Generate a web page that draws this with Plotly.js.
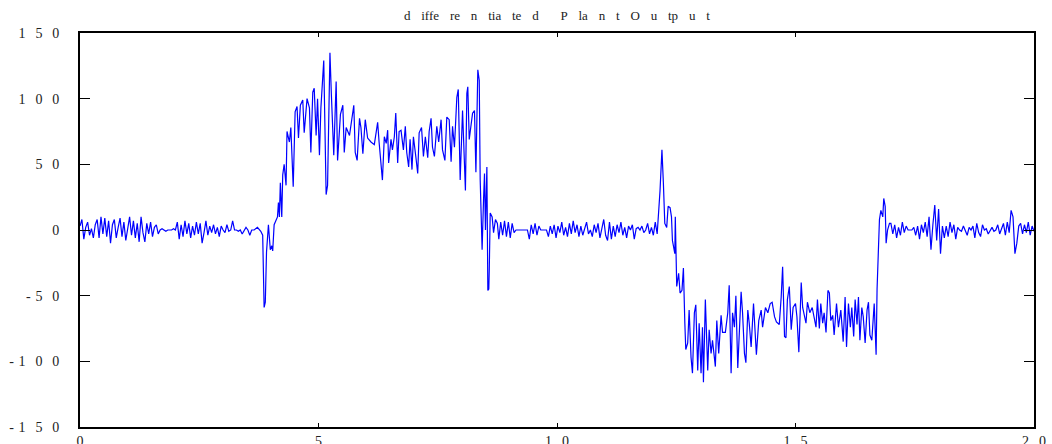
<!DOCTYPE html>
<html>
<head>
<meta charset="utf-8">
<script src="https://cdn.plot.ly/plotly-3.0.1.min.js"></script>
<style>
  html, body { margin: 0; padding: 0; background: #fff; }
  #chart { width: 1052px; height: 444px; }
</style>
</head>
<body>
<div id="chart"></div>
<script>
// ---- data ----
const titleGroups = ["d", "iffe", "re", "n", "tia", "te", "d", "", "P", "la", "n", "t", "O", "u", "tp", "u", "t"];
const xTickVals = [0, 5, 10, 15, 20];
const xTickText = ["0", "5", "1 0", "1 5", "2 0"];
const yTickVals = [150, 100, 50, 0, -50, -100, -150];
const yTickText = ["1 5 0", "1 0 0", "5 0", "0", "- 5 0", "- 1 0 0", "- 1 5 0"];

const quietStep = 0.04;

// quiet noise, 0 s .. 3.60 s
const quiet1Start = 0;
const quiet1 = [3,8,-7,2,6,-4,1,-6,4,8,-6,
  10,-3,9,-5,7,-10,4,8,-6,2,
  9,-5,6,-8,3,10,-4,7,-6,5,-9,
  10,-2,-9,5,-3,6,-5,2,4,-3,
  0,1,0,-1,0,0,0,1,0,
  6,-7,4,-5,7,-3,5,-6,3,
  -4,6,-3,5,-10,-2,7,-4,3,-2,
  4,-3,2,-5,3,0,-2,4,-1,0,
  7,0,0,-1,0,-3,0,2,0,-4,0];

// first transient (time s, value)
const burst1 = [[3.65,0],[3.72,2],[3.79,-1],[3.83,-4],[3.86,-59],[3.885,-55],[3.91,-17],[3.95,4],
  [3.97,-8],[3.99,-15],[4.02,-12],[4.04,-16],[4.07,4],[4.11,8],[4.14,10],[4.16,21],[4.18,10],
  [4.20,36],[4.23,10],[4.25,42],[4.28,50],[4.32,34],[4.34,75],[4.39,67],[4.42,78],[4.47,33],
  [4.51,90],[4.55,94],[4.58,70],[4.62,95],[4.67,99],[4.70,74],[4.76,100],[4.81,93],[4.84,59],
  [4.88,105],[4.91,108],[4.95,72],[4.98,100],[5.02,57],[5.05,93],[5.11,129],[5.16,27],[5.19,34],
  [5.24,135],[5.27,103],[5.32,57],[5.37,113],[5.40,53],[5.46,88],[5.51,95],[5.54,59],[5.58,78],
  [5.65,72],[5.68,80],[5.74,95],[5.77,59],[5.81,53],[5.86,85],[5.89,78],[5.93,58],[5.98,84],
  [6.03,70],[6.10,67],[6.17,65],[6.24,82],[6.27,67],[6.34,38],[6.38,71],[6.42,66],[6.45,76],
  [6.47,51],[6.52,69],[6.55,61],[6.59,71],[6.62,89],[6.66,51],[6.69,75],[6.73,76],[6.78,61],
  [6.82,79],[6.85,59],[6.89,48],[6.92,69],[6.96,46],[6.99,71],[7.04,56],[7.08,43],[7.11,74],
  [7.16,78],[7.20,56],[7.24,71],[7.29,55],[7.32,75],[7.36,85],[7.39,63],[7.43,56],[7.48,79],
  [7.52,67],[7.57,84],[7.60,61],[7.65,53],[7.69,86],[7.74,84],[7.78,52],[7.81,79],[7.85,63],
  [7.90,101],[7.93,107],[7.97,38],[8.02,91],[8.08,30],[8.11,104],[8.13,109],[8.16,69],[8.20,79],
  [8.23,89],[8.27,91],[8.30,44],[8.34,122],[8.37,114],[8.39,38],[8.43,-15],[8.46,23],[8.48,43],
  [8.50,0],[8.53,48],[8.55,-46],[8.57,-45],[8.58,-30],[8.60,13],[8.64,10],[8.67,-2],[8.71,8],[8.75,5]];

// quiet noise, 8.78 s .. 12.1 s
const quiet2Start = 8.78;
const quiet2 = [-7,6,-4,7,-5,6,-6,5,-2,
  0,0,0,0,0,0,0,
  -7,4,-3,5,-4,3,0,0,0,0,-5,3,-3,
  4,-6,3,-2,6,-4,2,-5,5,-3,7,-2,4,-5,
  3,-4,2,6,-3,0,-5,4,-2,5,-6,2,8,-4,
  -8,6,-7,3,-5,4,-2,6,-4,2,
  -6,3,0,4,-7,1,2,
  0,3,-2,0,5,-3,2,-4,6,-3];

// second transient (time s, value)
const burst2 = [[12.16,30],[12.20,61],[12.23,36],[12.26,5],[12.30,2],[12.33,18],[12.37,17],[12.40,10],
  [12.42,-8],[12.47,-18],[12.48,10],[12.51,-43],[12.55,-33],[12.58,-48],[12.62,-46],[12.65,-29],
  [12.68,-71],[12.70,-91],[12.74,-86],[12.77,-61],[12.81,-97],[12.84,-109],[12.88,-63],[12.91,-57],
  [12.95,-107],[12.98,-71],[13.02,-109],[13.05,-74],[13.07,-116],[13.11,-53],[13.16,-107],[13.19,-76],
  [13.23,-94],[13.26,-84],[13.32,-104],[13.35,-69],[13.39,-94],[13.44,-65],[13.47,-78],[13.53,-78],
  [13.58,-63],[13.61,-42],[13.65,-109],[13.68,-63],[13.72,-74],[13.75,-50],[13.79,-105],[13.82,-81],
  [13.86,-47],[13.89,-63],[13.93,-94],[13.96,-101],[14.00,-61],[14.03,-71],[14.07,-89],[14.12,-56],
  [14.16,-78],[14.18,-95],[14.23,-69],[14.28,-61],[14.31,-74],[14.37,-59],[14.42,-63],[14.47,-56],
  [14.51,-55],[14.56,-66],[14.60,-70],[14.66,-72],[14.70,-51],[14.73,-28],[14.77,-81],[14.80,-82],
  [14.83,-53],[14.87,-43],[14.91,-76],[14.95,-59],[15.00,-56],[15.03,-66],[15.07,-93],[15.12,-40],
  [15.15,-59],[15.18,-65],[15.22,-71],[15.25,-55],[15.30,-63],[15.35,-59],[15.39,-66],[15.43,-74],
  [15.46,-53],[15.50,-75],[15.53,-56],[15.57,-71],[15.60,-63],[15.64,-78],[15.68,-46],[15.71,-48],
  [15.74,-69],[15.78,-65],[15.81,-80],[15.86,-56],[15.90,-74],[15.95,-61],[16.00,-85],[16.04,-51],
  [16.07,-89],[16.11,-56],[16.15,-74],[16.18,-59],[16.22,-81],[16.25,-53],[16.29,-72],[16.32,-51],
  [16.35,-84],[16.39,-59],[16.42,-66],[16.46,-86],[16.50,-61],[16.53,-55],[16.56,-80],[16.60,-84],
  [16.65,-56],[16.69,-95],[16.71,-45],[16.73,-28],[16.76,8],[16.79,15],[16.83,10],[16.85,24],
  [16.88,18],[16.90,-10],[16.93,0],[16.97,5]];

// quiet noise, 17.0 s .. 20 s
const quiet3Start = 17.0;
const quiet3 = [5,-3,4,-6,2,-4,6,-2,3,
  0,0,0,
  2,-4,3,-7,4,-2,6,-5,
  10,-15,4,19,-8,16,-18,3,-6,
  3,-5,6,-2,4,-7,2,
  0,-1,3,0,-4,2,0,
  3,-6,5,-2,-5,4,0,
  1,-3,0,2,-1,0,4,-3,1,5,
  -4,6,-2,15,10,-18,-10,3,
  5,-3,4,-2,6,-4,3,-1];

// ---- assemble the series ----
const xs = [], ys = [];
function addQuiet(start, vals, limit) {
  vals.forEach((v, i) => {
    const t = +(start + i * quietStep).toFixed(3);
    if (t < limit && t <= 20) { xs.push(t); ys.push(v); }
  });
}
function addPairs(pairs) { pairs.forEach(p => { xs.push(p[0]); ys.push(p[1]); }); }
addQuiet(quiet1Start, quiet1, burst1[0][0]);
addPairs(burst1);
addQuiet(quiet2Start, quiet2, burst2[0][0]);
addPairs(burst2);
addQuiet(quiet3Start, quiet3, 20.001);

// spaced-out typography of the original (unicode spaces are not collapsed)
const GAP = "\u2002\u2004";
function spaced(s) {
  return s.replace(/- /g, "-\u2004").replace(/(\d) /g, "$1\u2002\u2009");
}
const chartTitle = titleGroups.join(GAP);

const serif = "Liberation Serif, Times New Roman, serif";

const trace = {
  x: xs, y: ys, type: "scatter", mode: "lines",
  line: { color: "#0000ff", width: 1.2 },
  hoverinfo: "skip"
};

const layout = {
  width: 1052, height: 444,
  margin: { l: 80, r: 18, t: 33, b: 17, pad: 0 },
  paper_bgcolor: "#ffffff", plot_bgcolor: "#ffffff",
  showlegend: false,
  title: {
    text: chartTitle,
    font: { family: serif, size: 13, color: "#222" },
    x: 0.5294, xanchor: "center", y: 0.965, yanchor: "middle"
  },
  xaxis: {
    range: [0, 20], tickmode: "array", tickvals: xTickVals, ticktext: xTickText.map(spaced),
    ticks: "inside", ticklen: 4, tickwidth: 1, tickcolor: "#000",
    showline: true, linewidth: 2, linecolor: "#000", mirror: "ticks",
    showgrid: false, zeroline: false,
    tickfont: { family: serif, size: 14, color: "#222" }
  },
  yaxis: {
    range: [-150, 150], tickmode: "array", tickvals: yTickVals, ticktext: yTickText.map(spaced),
    ticks: "inside", ticklen: 10, tickwidth: 1, tickcolor: "#000",
    showline: true, linewidth: 2, linecolor: "#000", mirror: "ticks",
    showgrid: false, zeroline: false, ticklabelstandoff: 16,
    tickfont: { family: serif, size: 14, color: "#222" }
  }
};

Plotly.newPlot("chart", [trace], layout, { staticPlot: true, displayModeBar: false });
</script>
</body>
</html>
